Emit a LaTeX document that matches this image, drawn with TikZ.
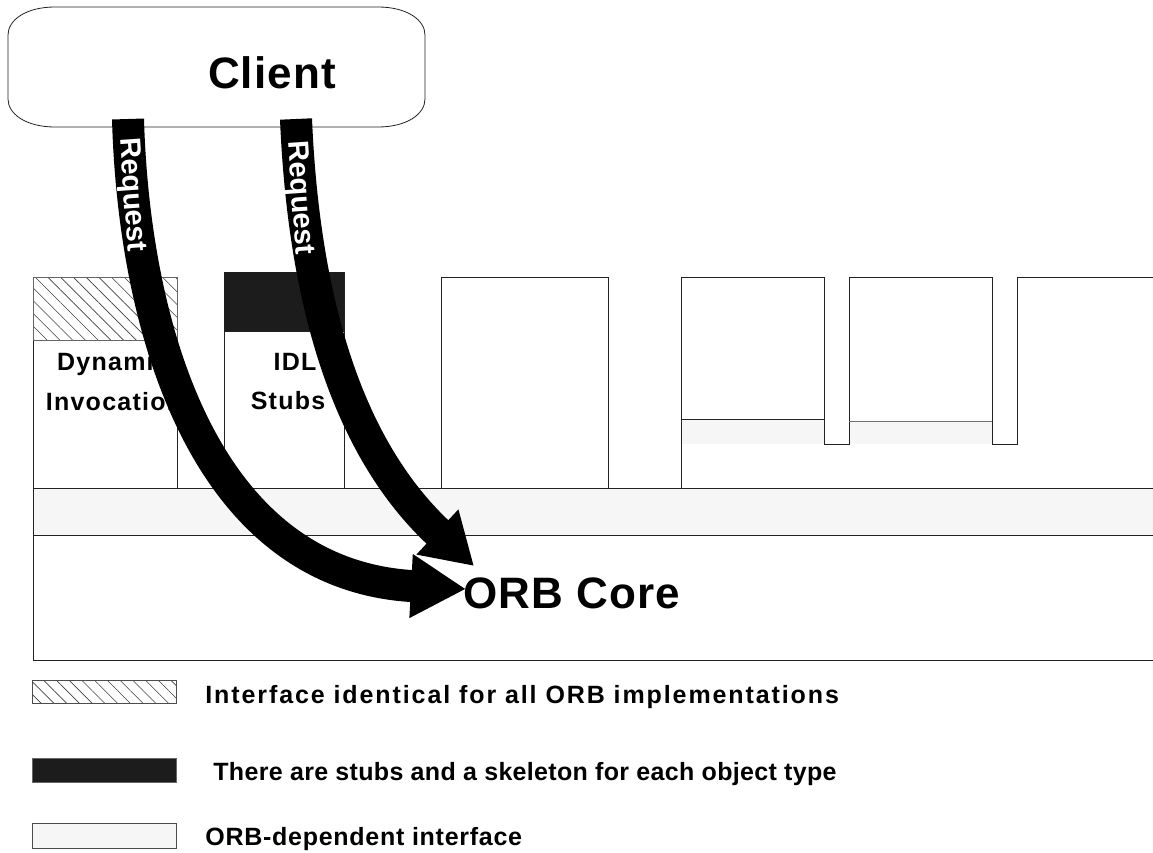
\documentclass[tikz,border=0pt]{standalone}
\usepackage{fontspec}
\setmainfont{Liberation Sans}
\usetikzlibrary{arrows.meta,patterns.meta}
\definecolor{lightband}{HTML}{F6F6F6}
\definecolor{darkfill}{HTML}{1C1C1C}
\definecolor{edge}{HTML}{222222}
\begin{document}
\begin{tikzpicture}[x=1pt,y=-1pt,line width=0.8pt,
  edgeline/.style={draw=edge,line width=0.8pt},
  hatchfill/.style={pattern={Lines[angle=-45,distance=9pt,line width=0.6pt]},pattern color=black!75},
  bandfill/.style={fill=lightband},
  darkbox/.style={fill=darkfill},
  boxlabel/.style={inner sep=0pt,font=\bfseries\fontsize{25}{30}\selectfont\addfontfeature{LetterSpace=5}},
  legendtext/.style={inner sep=0pt,anchor=base west},
  legendfont/.style={font=\bfseries\fontsize{25}{30}\selectfont\addfontfeature{LetterSpace=#1}},
  bigtext/.style={font=\bfseries\fontsize{44}{50}\selectfont\addfontfeature{LetterSpace=2.5}},
  reqarrow/.style={line width=32pt,draw=black},
  reqtext/.style={text=white,font=\bfseries\fontsize{29}{30}\selectfont,inner sep=0pt}]
\useasboundingbox (0,0) rectangle (1153,853);
% Client
\draw[edgeline,fill=white] (55,7) -- (378,7) .. controls (407,7) and (425,20) .. (425,35)
  -- (425,99) .. controls (425,114) and (407,127) .. (378,127) -- (55,127)
  .. controls (26,127) and (8,114) .. (8,99) -- (8,35) .. controls (8,20) and (26,7) .. (55,7) -- cycle;
\node[bigtext] (client) at (272,73) {Client};
% Dynamic Invocation box
\draw[edgeline,fill=white] (33,277) rectangle (177,488);
\draw[draw=black!60,hatchfill] (33,277) rectangle (177,340);
\node[boxlabel,anchor=base] (dyn1) at (113,370) {Dynamic};
\node[boxlabel,anchor=base] (dyn2) at (114,410) {Invocation};
% IDL Stubs box
\draw[edgeline,fill=white] (224,272) rectangle (344,488);
\fill[darkbox] (224,272) rectangle (344,331);
\draw[edgeline] (224,331) -- (344,331);
\node[boxlabel,anchor=base] (idl1) at (295,370) {IDL};
\node[boxlabel,anchor=base] (idl2) at (288,409) {Stubs};
% third box
\draw[edgeline,fill=white] (441,277) rectangle (608,488);
% right structure
\fill[bandfill] (681,419) rectangle (824,444);
\fill[bandfill] (849,421) rectangle (992,444);
\draw[edgeline] (681,488) -- (681,277) -- (824,277) -- (824,444) -- (849,444) -- (849,277) -- (992,277) -- (992,444) -- (1017,444) -- (1017,277) -- (1153,277);
\draw[edgeline] (681,419) -- (824,419);
\draw[draw=black!55] (849,421) -- (992,421);
% ORB band and core
\fill[bandfill] (33,488) rectangle (1153,535);
\draw[edgeline] (1153,488) -- (33,488) -- (33,660) -- (1153,660);
\draw[edgeline] (33,535) -- (1153,535);
\node[bigtext,anchor=base west,inner sep=0pt] (core) at (463,608) {ORB Core};
% arrows
\coordinate (a1s) at (128,119);
\coordinate (a1e) at (466,589);
\coordinate (a2s) at (296,119);
\coordinate (a2e) at (474,566);
\draw[reqarrow,-{Triangle[length=55pt,width=60pt]}] (a1s) .. controls (134,330) and (205,575) .. (a1e);
\draw[reqarrow,-{Triangle[length=50pt,width=58pt]}] (a2s) .. controls (305,330) and (360,460) .. (a2e);
\node[reqtext,rotate=-86] (r1) at (131,195) {Request};
\node[reqtext,rotate=-86] (r2) at (299,198) {Request};
% legend
\draw[draw=black!70,hatchfill] (32,680) rectangle (176,703);
\node[legendtext,legendfont=7.6] (l1) at (205,703) {Interface identical for all ORB implementations};
\draw[draw=black!60,darkbox] (32,758) rectangle (176,782);
\node[legendtext,legendfont=1.3] (l2) at (213,780) {There are stubs and a skeleton for each object type};
\draw[draw=black!70,bandfill] (32,823) rectangle (176,848);
\node[legendtext,legendfont=2.9] (l3) at (205,845) {ORB-dependent interface};
\end{tikzpicture}
\end{document}
